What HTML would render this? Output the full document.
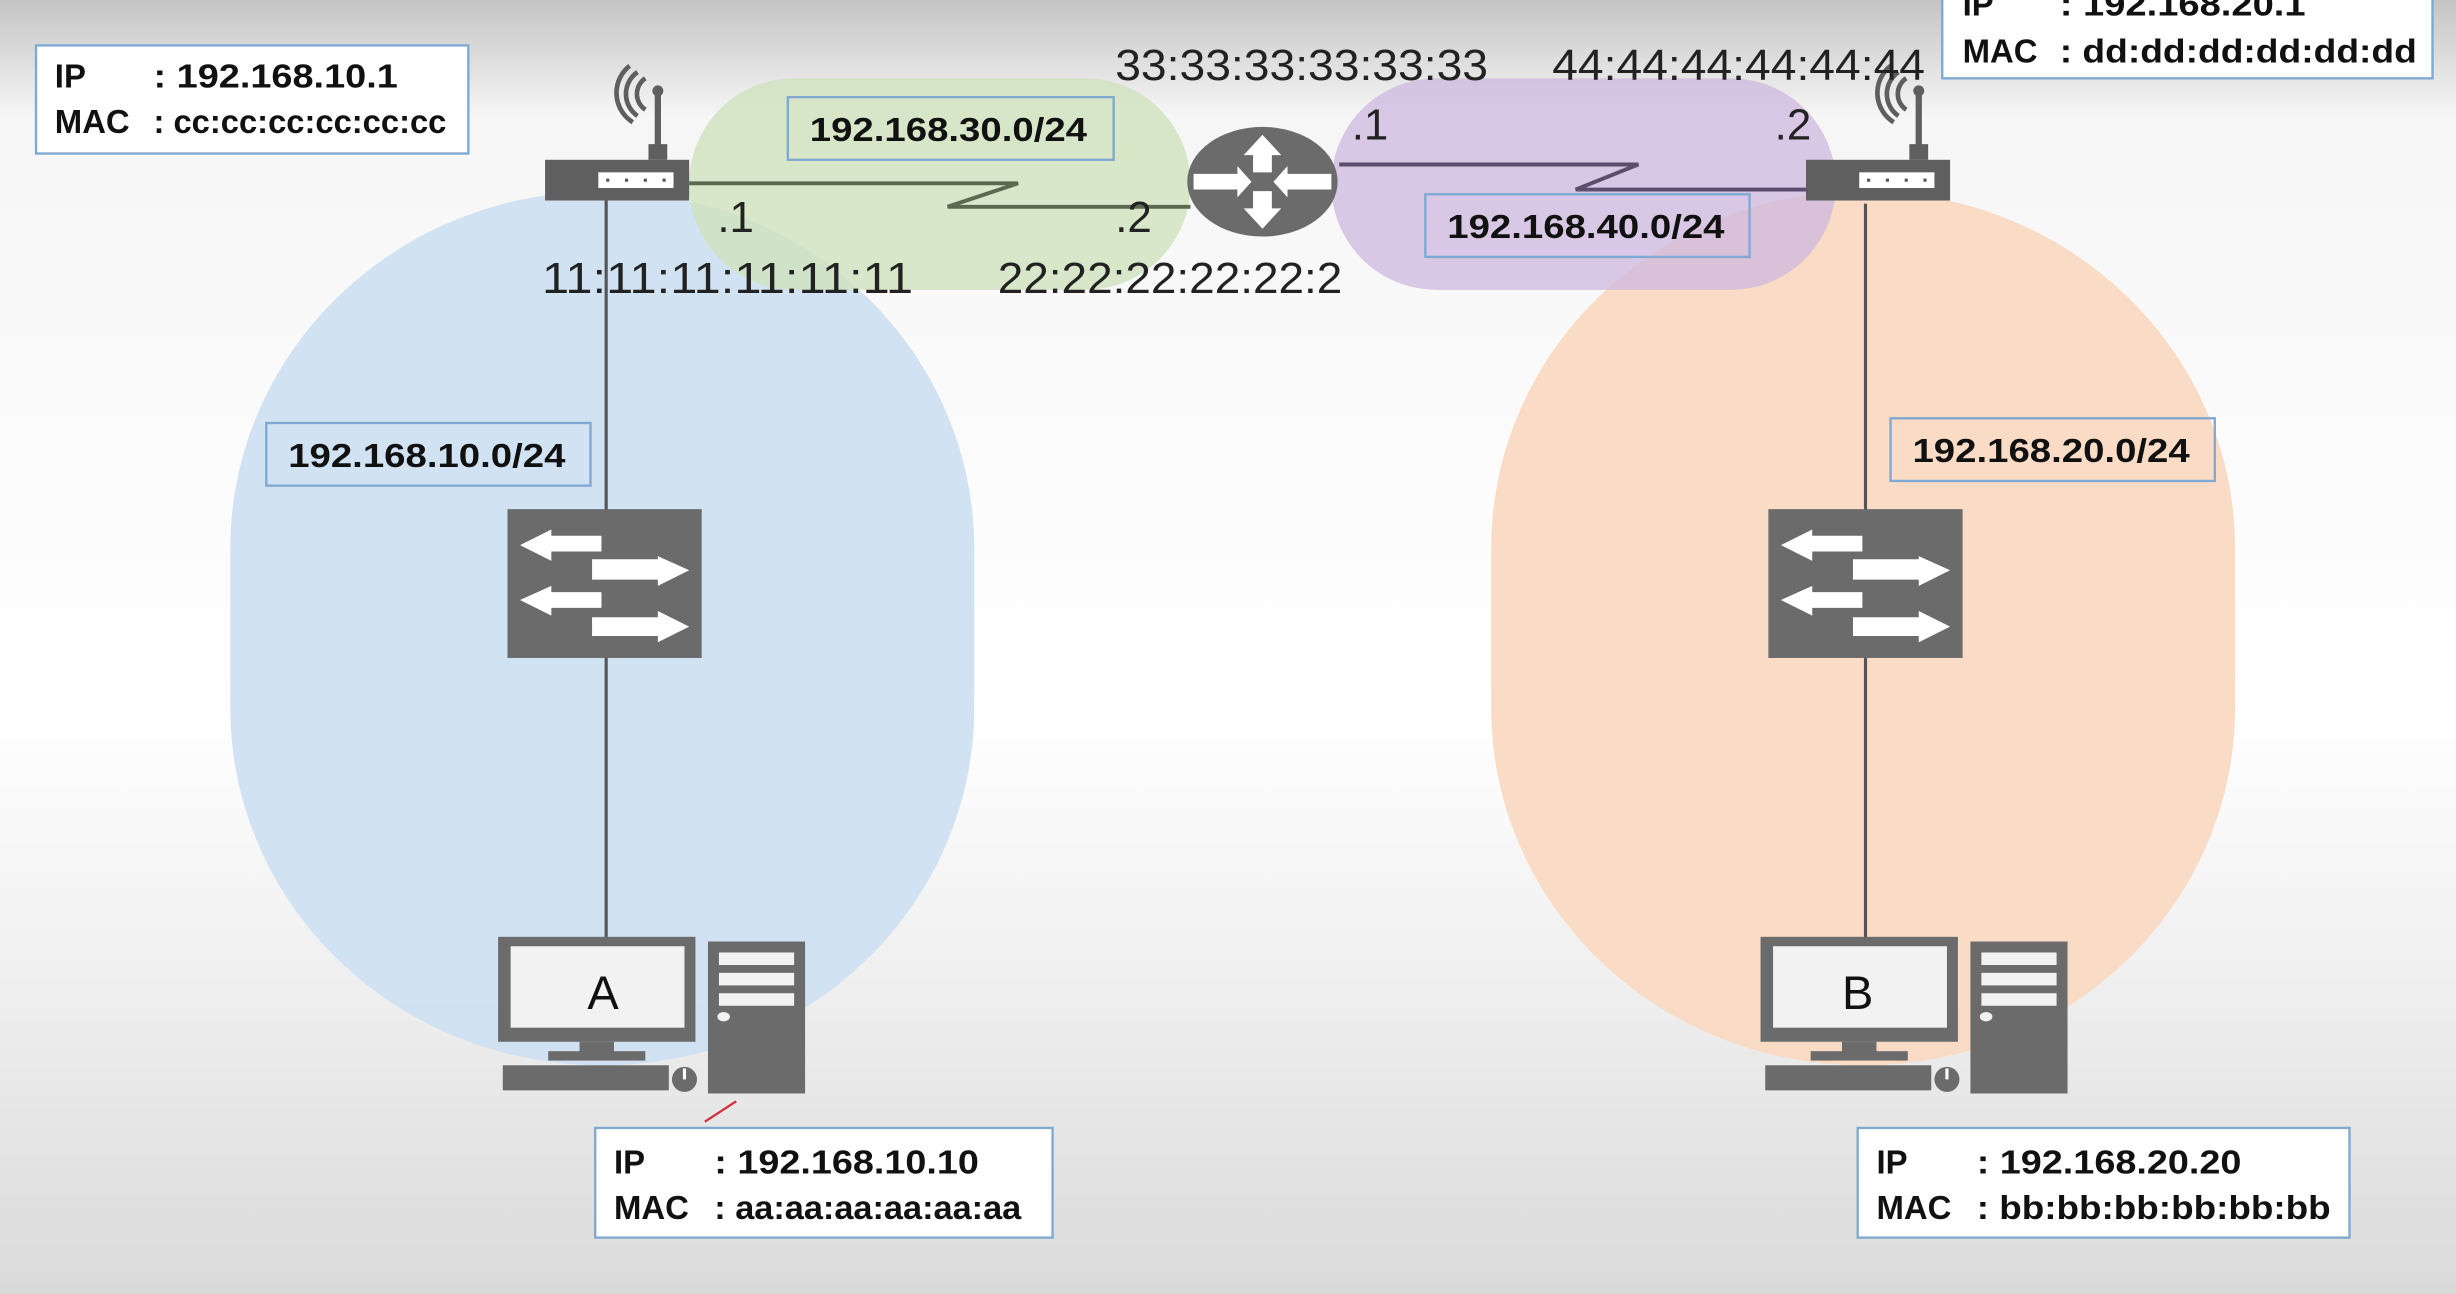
<!DOCTYPE html>
<html><head><meta charset="utf-8"><style>
html,body{margin:0;padding:0;}
body{width:2456px;height:1294px;overflow:hidden;}
svg{display:block;}
.b{font-family:"Liberation Sans",sans-serif;font-weight:bold;fill:#111;font-size:21px;}
.m{font-family:"Liberation Sans",sans-serif;fill:#222;font-size:28px;}
</style></head><body>
<svg width="2456" height="1294" viewBox="0 0 1568 826" preserveAspectRatio="none" xmlns="http://www.w3.org/2000/svg">
<defs>
<linearGradient id="bg" x1="0" y1="0" x2="0" y2="1">
<stop offset="0" stop-color="#c4c4c4"/>
<stop offset="0.09" stop-color="#f6f6f6"/>
<stop offset="0.55" stop-color="#ffffff"/>
<stop offset="0.75" stop-color="#f0f0f0"/>
<stop offset="1" stop-color="#dadada"/>
</linearGradient>
<g id="sw">
<rect x="0" y="0" width="124" height="95" fill="#6b6b6b"/>
<polygon points="8,23 28,13 28,17 60,17 60,27 28,27 28,33" fill="#fff"/>
<polygon points="116,39 96,30 96,32 54,32 54,45 96,45 96,49" fill="#fff"/>
<polygon points="8,58 28,49 28,53 60,53 60,63 28,63 28,68" fill="#fff"/>
<polygon points="116,75 96,65 96,69 54,69 54,81 96,81 96,85" fill="#fff"/>
</g>
<g id="pc">
<rect x="0" y="0" width="126" height="67" fill="#6b6b6b"/>
<rect x="8" y="6" width="111" height="52" fill="#f2f2f2"/>
<rect x="52" y="67" width="22" height="8" fill="#6b6b6b"/>
<rect x="32" y="73" width="62" height="6" fill="#6b6b6b"/>
<rect x="3" y="82" width="106" height="16" fill="#6b6b6b"/>
<circle cx="119" cy="91" r="8" fill="#6b6b6b"/>
<rect x="118" y="84" width="2" height="7" fill="#fff"/>
<rect x="134" y="3" width="62" height="97" fill="#6b6b6b"/>
<rect x="141" y="10" width="48" height="8" fill="#f2f2f2"/>
<rect x="141" y="23" width="48" height="8" fill="#f2f2f2"/>
<rect x="141" y="36" width="48" height="8" fill="#f2f2f2"/>
<ellipse cx="144" cy="51" rx="4" ry="3" fill="#f2f2f2"/>
</g>
<g id="rt">
<rect x="0" y="0" width="92" height="26" fill="#5f5f5f"/>
<rect x="34" y="8" width="48" height="10" fill="#fff"/>
<g fill="#555"><rect x="39" y="12" width="2" height="2"/><rect x="51" y="12" width="2" height="2"/><rect x="63" y="12" width="2" height="2"/><rect x="75" y="12" width="2" height="2"/></g>
<rect x="66" y="-10" width="12" height="10" fill="#5f5f5f"/>
<rect x="70" y="-45" width="4" height="36" fill="#5f5f5f"/>
<circle cx="72" cy="-44" r="3.5" fill="#5f5f5f"/>
<path d="M64,-52 A12,12 0 0,0 64,-32 M59,-56 A17,17 0 0,0 59,-28 M54,-60 A22,22 0 0,0 56,-24" stroke="#5f5f5f" stroke-width="3" fill="none"/>
</g>
</defs>
<rect width="1568" height="826" fill="url(#bg)"/>

<rect x="147" y="122" width="475" height="558" rx="237" ry="228" fill="#cfe1f1" opacity="0.95"/>
<rect x="952" y="122" width="475" height="558" rx="237" ry="228" fill="#fadac3" opacity="0.95"/>
<rect x="440" y="50" width="320" height="135" rx="67" fill="#cfe2bd" opacity="0.8"/>
<rect x="850" y="50" width="322" height="135" rx="67" fill="#cdb8df" opacity="0.75"/>

<line x1="387" y1="127" x2="387" y2="600" stroke="#555" stroke-width="2"/>
<line x1="1191" y1="130" x2="1191" y2="600" stroke="#555" stroke-width="2"/>
<polyline points="440,117 650,117 605,132 760,132" fill="none" stroke="#5a6a50" stroke-width="2.5"/>
<polyline points="855,105 1046,105 1006,121 1154,121" fill="none" stroke="#5d4c6e" stroke-width="2.5"/>

<use href="#rt" x="348" y="102"/>
<use href="#rt" x="1153" y="102"/>

<ellipse cx="806" cy="116" rx="48" ry="35" fill="#6b6b6b"/>
<g fill="#fff">
<polygon points="806,86 818,99 812,99 812,110 800,110 800,99 794,99"/>
<polygon points="806,146 818,133 812,133 812,122 800,122 800,133 794,133"/>
<polygon points="799,116 790,106 790,111 762,111 762,121 790,121 790,126"/>
<polygon points="813,116 822,106 822,111 850,111 850,121 822,121 822,126"/>
</g>

<use href="#sw" x="324" y="325"/>
<use href="#sw" x="1129" y="325"/>
<use href="#pc" x="318" y="598"/>
<use href="#pc" x="1124" y="598"/>
<text x="385" y="644" font-family="Liberation Sans,sans-serif" font-size="30" text-anchor="middle" fill="#111">A</text>
<text x="1186" y="644" font-family="Liberation Sans,sans-serif" font-size="30" text-anchor="middle" fill="#111">B</text>
<line x1="450" y1="716" x2="470" y2="703" stroke="#d03040" stroke-width="1.5"/>

<g fill="#fff" stroke="#7fa9d2" stroke-width="1.5">
<rect x="23" y="29" width="276" height="69"/>
<rect x="1240" y="-5" width="313" height="55"/>
<rect x="503" y="62" width="208" height="40" fill="none"/>
<rect x="910" y="124" width="207" height="40" fill="none"/>
<rect x="170" y="270" width="207" height="40" fill="none"/>
<rect x="1207" y="267" width="207" height="40" fill="none"/>
<rect x="380" y="720" width="292" height="70"/>
<rect x="1186" y="720" width="314" height="70"/>
</g>

<text class="b" x="35" y="56">IP</text><text class="b" x="98" y="56" textLength="156" lengthAdjust="spacingAndGlyphs">: 192.168.10.1</text>
<text class="b" x="35" y="85">MAC</text><text class="b" x="98" y="85" textLength="187" lengthAdjust="spacingAndGlyphs">: cc:cc:cc:cc:cc:cc</text>
<text class="b" x="1253" y="10">IP</text><text class="b" x="1315" y="10" textLength="157" lengthAdjust="spacingAndGlyphs">: 192.168.20.1</text>
<text class="b" x="1253" y="40">MAC</text><text class="b" x="1315" y="40" textLength="228" lengthAdjust="spacingAndGlyphs">: dd:dd:dd:dd:dd:dd</text>
<text class="b" x="517" y="90" textLength="177" lengthAdjust="spacingAndGlyphs">192.168.30.0/24</text>
<text class="b" x="924" y="152" textLength="177" lengthAdjust="spacingAndGlyphs">192.168.40.0/24</text>
<text class="b" x="184" y="298" textLength="177" lengthAdjust="spacingAndGlyphs">192.168.10.0/24</text>
<text class="b" x="1221" y="295" textLength="177" lengthAdjust="spacingAndGlyphs">192.168.20.0/24</text>
<text class="b" x="392" y="749">IP</text><text class="b" x="456" y="749" textLength="169" lengthAdjust="spacingAndGlyphs">: 192.168.10.10</text>
<text class="b" x="392" y="778">MAC</text><text class="b" x="456" y="778" textLength="196" lengthAdjust="spacingAndGlyphs">: aa:aa:aa:aa:aa:aa</text>
<text class="b" x="1198" y="749">IP</text><text class="b" x="1262" y="749" textLength="169" lengthAdjust="spacingAndGlyphs">: 192.168.20.20</text>
<text class="b" x="1198" y="778">MAC</text><text class="b" x="1262" y="778" textLength="226" lengthAdjust="spacingAndGlyphs">: bb:bb:bb:bb:bb:bb</text>

<text class="m" x="458" y="148">.1</text>
<text class="m" x="712" y="148">.2</text>
<text class="m" x="863" y="89">.1</text>
<text class="m" x="1133" y="89">.2</text>
<text class="m" x="346" y="187" textLength="237" lengthAdjust="spacingAndGlyphs">11:11:11:11:11:11</text>
<text class="m" x="637" y="187" textLength="220" lengthAdjust="spacingAndGlyphs">22:22:22:22:22:2</text>
<text class="m" x="712" y="51" textLength="238" lengthAdjust="spacingAndGlyphs">33:33:33:33:33:33</text>
<text class="m" x="991" y="51" textLength="238" lengthAdjust="spacingAndGlyphs">44:44:44:44:44:44</text>
</svg>
</body></html>
